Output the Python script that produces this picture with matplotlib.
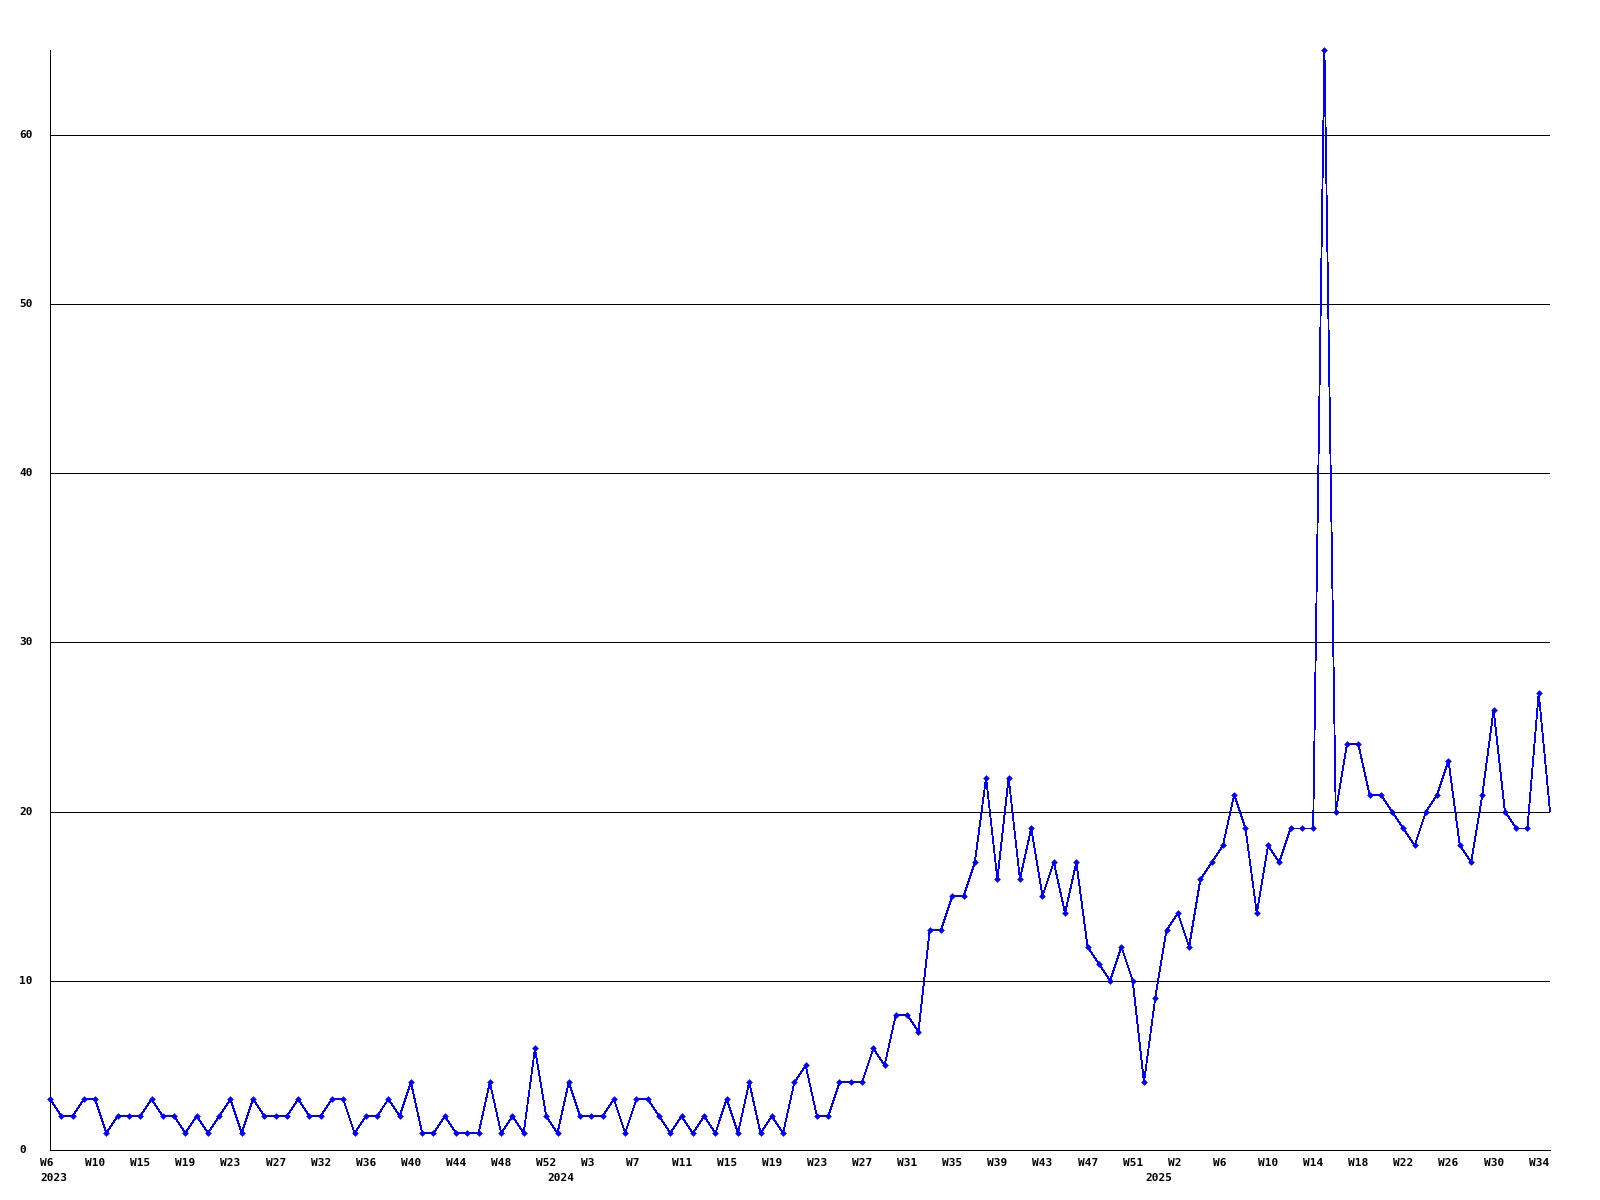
import numpy as np
import matplotlib.pyplot as plt
from matplotlib.transforms import ScaledTranslation, blended_transform_factory

# weekly counts, 2023 W6 .. 2025 W35
values = [
    3, 2, 2, 3, 3, 1, 2, 2, 2, 3, 2, 2, 1, 2, 1, 2, 3, 1, 3, 2, 2, 2, 3, 2, 2, 3, 3, 1, 2, 2, 3, 2,
    4, 1, 1, 2, 1, 1, 1, 4, 1, 2, 1, 6, 2, 1, 4, 2, 2, 2, 3, 1, 3, 3, 2, 1, 2, 1, 2, 1, 3, 1, 4, 1, 2, 1, 4,
    5, 2, 2, 4, 4, 4, 6, 5, 8, 8, 7,
    13, 13, 15, 15, 17, 22, 16, 22, 16, 19, 15, 17, 14, 17, 12, 11, 10, 12, 10,
    4, 9, 13, 14, 12, 16, 17, 18, 21, 19,
    14, 18, 17, 19, 19, 19, 65, 20, 24, 24, 21, 21, 20, 19, 18, 20, 21, 23, 18, 17, 21, 26, 20, 19, 19, 27, 20,
]

week_labels = [
    "W6", "W10", "W15", "W19", "W23", "W27", "W32", "W36", "W40", "W44", "W48", "W52",
    "W3", "W7", "W11", "W15", "W19", "W23", "W27", "W31", "W35", "W39", "W43", "W47", "W51",
    "W2", "W6", "W10", "W14", "W18", "W22", "W26", "W30", "W34",
]
label_step = 4
years = ["2023", "2024", "2025"]
year_index = [0, 45, 98]
y_ticks = [0, 10, 20, 30, 40, 50, 60]

font = dict(family="DejaVu Sans Mono", fontweight="bold", fontsize=8)

fig = plt.figure(figsize=(16, 12), dpi=100)
ax = fig.add_axes([50 / 1600, 50 / 1200, 1500 / 1600, 1100 / 1200])

x = np.arange(len(values))
# the last week is drawn without a marker
ax.plot(x, values, color="#0000ff", linewidth=0.6, marker="D", markersize=3.4,
        markeredgewidth=0, markevery=list(range(len(values) - 1)),
        antialiased=False, zorder=3, clip_on=False)

ax.set_xlim(0, len(values) - 1)
ax.set_ylim(0, 65)

for yv in y_ticks[1:]:
    ax.axhline(yv, color="black", linewidth=0.6, antialiased=False, zorder=1)

for s in ["top", "right"]:
    ax.spines[s].set_visible(False)
for s in ["left", "bottom"]:
    ax.spines[s].set_linewidth(0.6)
    ax.spines[s].set_antialiased(False)

ax.set_xticks([])
ax.set_yticks([])

# y labels, left aligned near the figure edge
yt = blended_transform_factory(fig.transFigure, ax.transData)
for yv in y_ticks:
    ax.text(19 / 1600, yv, str(yv), transform=yt, ha="left", va="center", **font)

shift = ScaledTranslation(-10 / 100, 0, fig.dpi_scale_trans)
xt = ax.get_xaxis_transform() + shift
for k, lab in enumerate(week_labels):
    ax.text(k * label_step, -8 / 1100, lab, transform=xt, ha="left", va="top", **font)
for yi, lab in zip(year_index, years):
    ax.text(yi, -23 / 1100, lab, transform=xt, ha="left", va="top", **font)

fig.savefig("out.png", dpi=100)
